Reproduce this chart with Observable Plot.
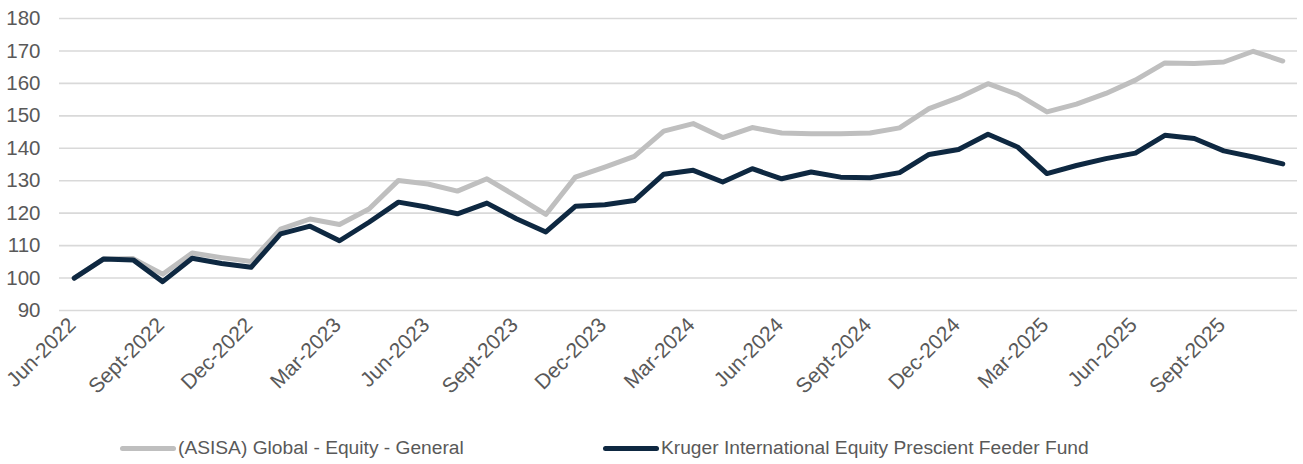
<!DOCTYPE html>
<html>
<head>
<meta charset="utf-8">
<script src="https://cdn.jsdelivr.net/npm/d3@7"></script>
<script src="https://cdn.jsdelivr.net/npm/@observablehq/plot@0.6"></script>
<style>
  html, body { margin: 0; padding: 0; background: #fff; }
  body { width: 1303px; height: 464px; overflow: hidden; font-family: "Liberation Sans", Arial, sans-serif; }
  #legend { position: relative; height: 49px; color: #595959; font-size: 19.2px; }
  .item { position: absolute; top: 22px; display: flex; align-items: center; white-space: nowrap; }
  .swatch { width: 56px; height: 5px; border-radius: 3px; margin-right: 2px; }
</style>
</head>
<body>
<div id="chart"></div>
<div id="legend"></div>
<script>
const months = [
  "Jun-2022","Jul-2022","Aug-2022","Sept-2022","Oct-2022","Nov-2022","Dec-2022",
  "Jan-2023","Feb-2023","Mar-2023","Apr-2023","May-2023","Jun-2023","Jul-2023",
  "Aug-2023","Sept-2023","Oct-2023","Nov-2023","Dec-2023","Jan-2024","Feb-2024",
  "Mar-2024","Apr-2024","May-2024","Jun-2024","Jul-2024","Aug-2024","Sept-2024",
  "Oct-2024","Nov-2024","Dec-2024","Jan-2025","Feb-2025","Mar-2025","Apr-2025",
  "May-2025","Jun-2025","Jul-2025","Aug-2025","Sept-2025","Oct-2025","Nov-2025"
];
const asisa = [
  100, 105.9, 106.0, 101.2, 107.7, 106.3, 105.1,
  115.1, 118.2, 116.5, 121.3, 130.1, 129.0, 126.8,
  130.6, 125.2, 119.6, 131.1, 134.2, 137.5, 145.3,
  147.6, 143.3, 146.4, 144.7, 144.5, 144.5, 144.7,
  146.3, 152.2, 155.6, 159.9, 156.6, 151.2, 153.6,
  156.9, 161.0, 166.3, 166.1, 166.6, 169.9, 166.9
];
const kruger = [
  100, 105.9, 105.6, 98.9, 106.1, 104.5, 103.3,
  113.6, 116.0, 111.5, 117.2, 123.4, 121.8, 119.8,
  123.1, 118.3, 114.2, 122.1, 122.6, 123.9, 132.0,
  133.2, 129.6, 133.7, 130.6, 132.7, 131.1, 130.9,
  132.5, 138.1, 139.6, 144.3, 140.4, 132.2, 134.7,
  136.8, 138.5, 144.0, 143.0, 139.2, 137.3, 135.2
];
const xTickLabels = [
  "Jun-2022","Sept-2022","Dec-2022","Mar-2023","Jun-2023","Sept-2023","Dec-2023",
  "Mar-2024","Jun-2024","Sept-2024","Dec-2024","Mar-2025","Jun-2025","Sept-2025"
];
const yTicks = [90, 100, 110, 120, 130, 140, 150, 160, 170, 180];
const seriesNames = ["(ASISA) Global - Equity - General", "Kruger International Equity Prescient Feeder Fund"];
const seriesColors = ["#bfbfbf", "#0e2841"];

const rows = [];
months.forEach((m, i) => {
  rows.push({month: m, value: asisa[i], series: seriesNames[0]});
  rows.push({month: m, value: kruger[i], series: seriesNames[1]});
});

const chart = Plot.plot({
  width: 1303,
  height: 415,
  marginLeft: 59,
  marginRight: 6,
  marginTop: 18,
  marginBottom: 105,
  style: {fontFamily: "'Liberation Sans', Arial, sans-serif", fontSize: "20px", color: "#595959", background: "#fff"},
  x: {type: "point", domain: months, padding: 0.5, align: 0.5, round: false},
  y: {domain: [90, 180]},
  color: {domain: seriesNames, range: seriesColors},
  marks: [
    Plot.ruleY(yTicks, {stroke: "#d9d9d9", strokeWidth: 1.6}),
    Plot.axisY(yTicks, {tickSize: 0, tickPadding: 19, label: null, fontSize: 20.5, fill: "#595959"}),
    Plot.axisX(xTickLabels, {tickSize: 0, tickRotate: -45, tickPadding: 11, label: null, fontSize: 21, fill: "#595959", dx: -2}),
    Plot.line(rows, {x: "month", y: "value", z: "series", stroke: "series", strokeWidth: 5, strokeLinejoin: "round", strokeLinecap: "round"})
  ]
});
document.getElementById("chart").appendChild(chart);

const legend = document.getElementById("legend");
const lefts = [120, 603];
seriesNames.forEach((name, i) => {
  const item = document.createElement("div");
  item.className = "item";
  item.style.left = lefts[i] + "px";
  const sw = document.createElement("div");
  sw.className = "swatch";
  sw.style.background = seriesColors[i];
  const t = document.createElement("span");
  t.textContent = name;
  item.appendChild(sw);
  item.appendChild(t);
  legend.appendChild(item);
});
</script>
</body>
</html>
